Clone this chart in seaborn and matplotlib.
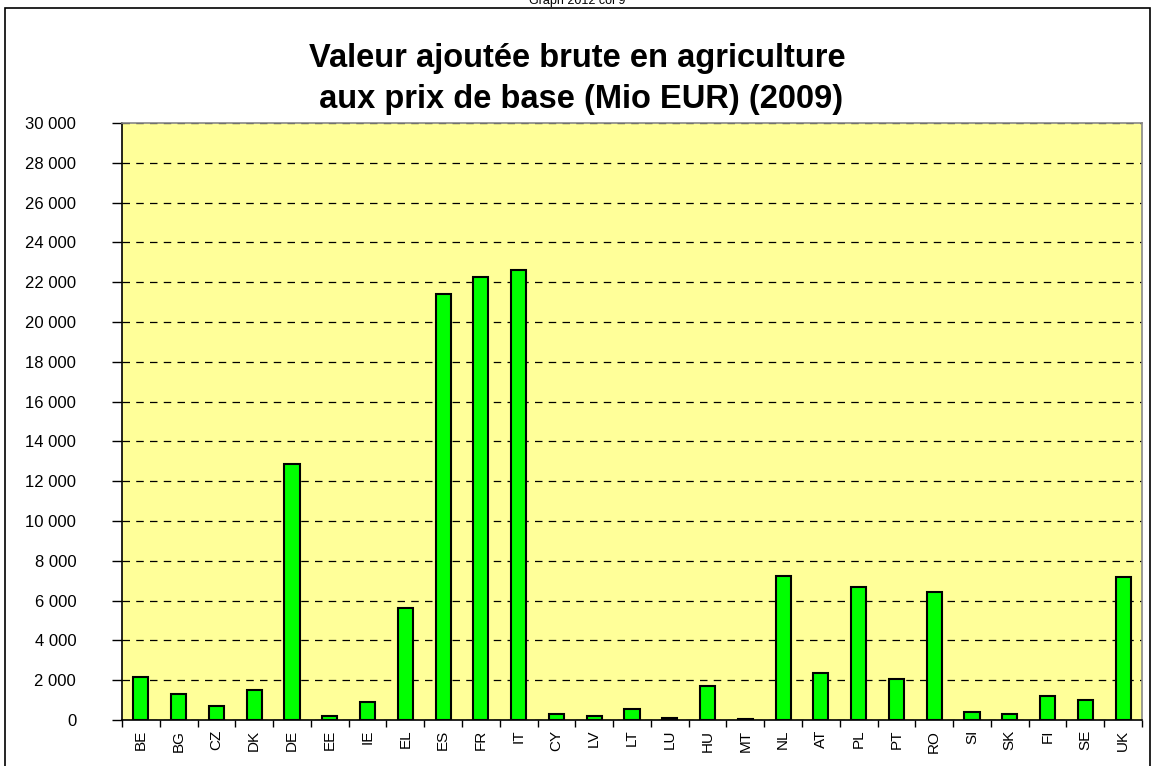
import matplotlib
matplotlib.use('Agg')
import matplotlib.pyplot as plt
import matplotlib.ticker as mticker
import seaborn as sns
import pandas as pd
import numpy as np

countries = ['BE', 'BG', 'CZ', 'DK', 'DE', 'EE', 'IE', 'EL', 'ES', 'FR', 'IT', 'CY', 'LV', 'LT',
             'LU', 'HU', 'MT', 'NL', 'AT', 'PL', 'PT', 'RO', 'SI', 'SK', 'FI', 'SE', 'UK']
values = [2150, 1300, 700, 1500, 12880, 200, 900, 5650, 21430, 22250, 22620, 300, 200, 550,
          80, 1700, 50, 7250, 2350, 6670, 2050, 6420, 400, 300, 1200, 1000, 7200]
title = 'Valeur ajoutée brute en agriculture\n aux prix de base (Mio EUR) (2009)'

df = pd.DataFrame({'pays': countries, 'valeur': values})

sns.set_style('white')
plt.rcParams['font.family'] = ['Liberation Sans', 'DejaVu Sans']
plt.rcParams['text.color'] = 'black'
plt.rcParams['xtick.color'] = 'black'
plt.rcParams['ytick.color'] = 'black'

fig = plt.figure(figsize=(11.54, 7.66), dpi=100)
ax = fig.add_axes([122 / 1154, 1 - 720 / 766, (1142 - 122) / 1154, (720 - 123) / 766])
ax.set_facecolor('#FFFF99')

sns.barplot(data=df, x='pays', y='valeur', color='#00FF00', edgecolor='black',
            linewidth=1.5, width=0.4, saturation=1, ax=ax, zorder=3)

ax.set_ylim(0, 30000)
ax.set_xlim(-0.5, len(countries) - 0.5)
ax.yaxis.set_major_locator(mticker.MultipleLocator(2000))
ax.yaxis.set_major_formatter(mticker.FuncFormatter(lambda v, p: f'{int(v):,}'.replace(',', ' ')))
ax.grid(axis='y', color='black', linestyle=(0, (6, 5)), linewidth=0.9, zorder=1)
ax.set_axisbelow(True)

ax.set_xticks(np.arange(len(countries)))
ax.set_xticklabels(countries, rotation=90)
ax.set_xticks(np.arange(len(countries) + 1) - 0.5, minor=True)
ax.tick_params(axis='x', which='major', length=0, pad=7, labelsize=11)
ax.tick_params(axis='x', which='minor', length=5, width=1, direction='out')
ax.tick_params(axis='y', length=7, width=1, direction='out', labelsize=12, pad=26)
ax.yaxis.set_ticks_position('left')
ax.xaxis.set_ticks_position('bottom')
ax.set_xlabel('')
ax.set_ylabel('')

for side in ['top', 'right']:
    ax.spines[side].set_color('#888888')
    ax.spines[side].set_linewidth(1.2)
for side in ['left', 'bottom']:
    ax.spines[side].set_color('black')
    ax.spines[side].set_linewidth(1.2)

fig.text(0.5, 1 - 79 / 766, title, ha='center', va='center', fontsize=23.5,
         fontweight='bold', linespacing=1.38)
fig.text(0.5, 1 - 1 / 766, 'Graph 2012 col 9', ha='center', va='center', fontsize=9)

border = plt.Rectangle((5 / 1154, -0.01), (1150 - 5) / 1154, 1 - 8 / 766 + 0.01,
                       transform=fig.transFigure, fill=False, edgecolor='black', linewidth=1.2)
fig.patches.append(border)

fig.savefig('out.png', dpi=100)
